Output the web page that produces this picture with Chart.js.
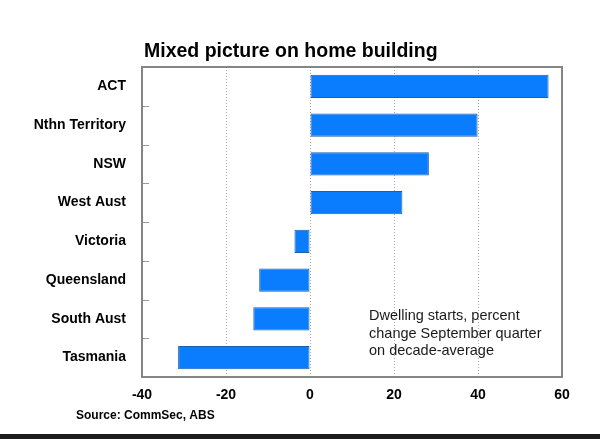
<!DOCTYPE html>
<html>
<head>
<meta charset="utf-8">
<script src="https://cdn.jsdelivr.net/npm/chart.js@4.4.1/dist/chart.umd.min.js"></script>
<style>
  html, body { margin: 0; padding: 0; background: #fff; }
  #wrap { position: relative; width: 600px; height: 439px; }
  canvas { display: block; }
</style>
</head>
<body>
<div id="wrap"><canvas id="c" width="600" height="439"></canvas></div>
<script>
const categories = ["ACT", "Nthn Territory", "NSW", "West Aust", "Victoria", "Queensland", "South Aust", "Tasmania"];
const values = [56.8, 39.9, 28.3, 22.0, -3.7, -12.1, -13.5, -31.4];
const xTicks = [-40, -20, 0, 20, 40, 60];
const titleText = "Mixed picture on home building";
const sourceText = "Source: CommSec, ABS";
const noteLines = ["Dwelling starts, percent", "change September quarter", "on decade-average"];

const FONT = "'Liberation Sans', Arial, Helvetica, sans-serif";

const decor = {
  id: 'decor',
  afterDatasetsDraw(chart) {
    const ctx = chart.ctx;
    const a = chart.chartArea;
    const y = chart.scales.y;
    ctx.save();
    // category boundary tick marks on the left axis
    ctx.strokeStyle = '#9a9a9a';
    ctx.lineWidth = 1;
    for (let i = 0; i < categories.length - 1; i++) {
      const p = Math.round((y.getPixelForValue(i) + y.getPixelForValue(i + 1)) / 2) + 0.5;
      ctx.beginPath();
      ctx.moveTo(a.left, p);
      ctx.lineTo(a.left + 7, p);
      ctx.stroke();
    }
    // plot border
    ctx.strokeStyle = '#858585';
    ctx.lineWidth = 2;
    ctx.strokeRect(a.left, a.top, a.right - a.left, a.bottom - a.top);
    // title
    ctx.fillStyle = '#000';
    ctx.font = "bold 19.5px " + FONT;
    ctx.textBaseline = 'alphabetic';
    ctx.textAlign = 'left';
    ctx.fillText(titleText, 144, 57);
    // note
    ctx.fillStyle = '#1a1a1a';
    ctx.font = "14.5px " + FONT;
    ctx.textBaseline = 'middle';
    noteLines.forEach((t, i) => ctx.fillText(t, 369, 316 + i * 17.5));
    // source
    ctx.fillStyle = '#000';
    ctx.font = "bold 12px " + FONT;
    ctx.fillText(sourceText, 76, 416);
    // bottom dark band
    ctx.fillStyle = '#1c1c1c';
    ctx.fillRect(0, 434, 600, 5);
    ctx.restore();
  }
};

new Chart(document.getElementById('c'), {
  type: 'bar',
  data: {
    labels: categories,
    datasets: [{
      data: values,
      backgroundColor: '#0a7dff',
      borderColor: '#1b5fb0',
      borderWidth: 1,
      borderSkipped: false,
      barPercentage: 0.6,
      categoryPercentage: 1.0
    }]
  },
  options: {
    indexAxis: 'y',
    responsive: false,
    animation: false,
    devicePixelRatio: 1,
    layout: { padding: { left: 0, right: 38, top: 67, bottom: 32 } },
    plugins: { legend: { display: false }, title: { display: false }, tooltip: { enabled: false } },
    scales: {
      x: {
        type: 'linear',
        min: -40, max: 60,
        afterBuildTicks(scale) { scale.ticks = xTicks.map(v => ({ value: v })); },
        afterFit(scale) { scale.height = 30; },
        border: { display: false, dash: [1, 2] },
        grid: {
          drawTicks: false,
          color: (c) => (c.tick && (c.tick.value === -40 || c.tick.value === 60)) ? 'rgba(0,0,0,0)' : '#a8a8a8',
          lineWidth: 1
        },
        ticks: {
          padding: 10,
          color: '#000',
          font: { family: FONT, size: 14, weight: 'bold' }
        }
      },
      y: {
        afterFit(scale) { scale.width = 142; },
        border: { display: false },
        grid: { display: false, drawTicks: false },
        ticks: {
          padding: 16,
          color: '#000',
          font: { family: FONT, size: 14, weight: 'bold' }
        }
      }
    }
  },
  plugins: [decor]
});
</script>
</body>
</html>
